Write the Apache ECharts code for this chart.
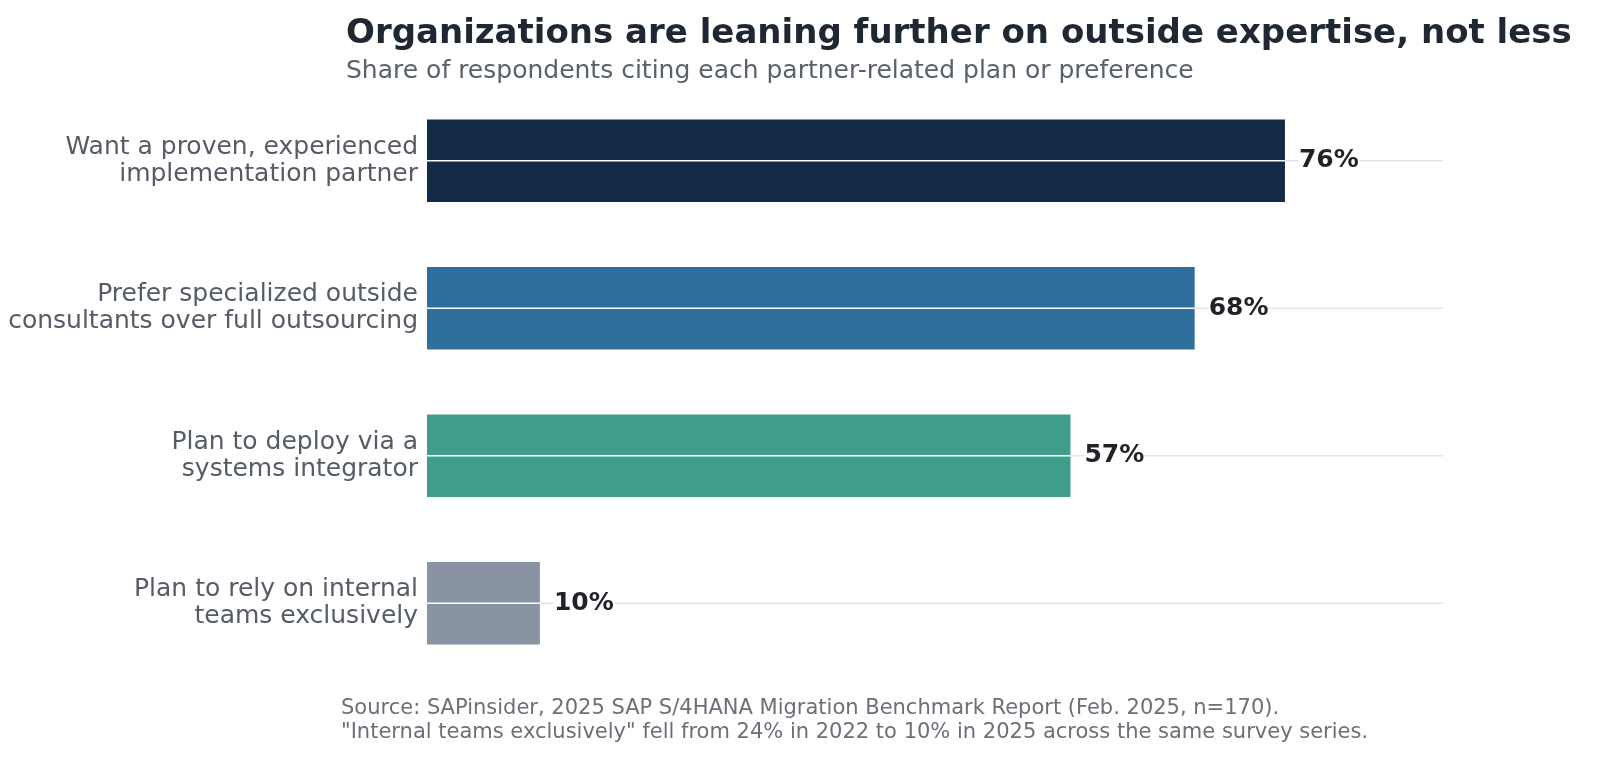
<!DOCTYPE html>
<html>
<head>
<meta charset="utf-8">
<title>ECharts</title>
<script src="https://cdn.jsdelivr.net/npm/echarts@6/dist/echarts.min.js"></script>
<style>html,body{margin:0;background:#fff}#main{width:1600px;height:774px}</style>
</head>
<body>
<div id="main"></div>
<script>
var categories = ['Want a proven, experienced\nimplementation partner', 'Prefer specialized outside\nconsultants over full outsourcing', 'Plan to deploy via a\nsystems integrator', 'Plan to rely on internal\nteams exclusively'];
var values = [76, 68, 57, 10];
var colors = ['#142b47', '#2e6f9e', '#3f9e8a', '#8a93a3'];
var xMax = 90;

var chart = echarts.init(document.getElementById('main'));

function lineItem(full, stroke) {
	return function (params, api) {
		var v = api.value(1);
		var a = api.coord([0, api.value(0)]);
		var b = api.coord([full ? xMax : v, api.value(0)]);
		return { type: 'line', shape: { x1: a[0], y1: a[1], x2: b[0], y2: b[1] }, style: { stroke: stroke, lineWidth: 1.5 } };
	};
}
var lineData = values.map(function (v, i) { return [i, v]; });

chart.setOption({
	textStyle: { fontFamily: 'DejaVu Sans' },
	title: {
		text: 'Organizations are leaning further on outside expertise, not less',
		subtext: 'Share of respondents citing each partner-related plan or preference',
		left: 341, top: 12, itemGap: 8,
		textStyle: { fontSize: 34, fontWeight: 'bold', color: '#1f2732' },
		subtextStyle: { fontSize: 25, color: '#5a616b' }
	},
	graphic: [{
		type: 'text', left: 341, top: 697,
		style: { text: 'Source: SAPinsider, 2025 SAP S/4HANA Migration Benchmark Report (Feb. 2025, n=170).\n"Internal teams exclusively" fell from 24% in 2022 to 10% in 2025 across the same survey series.', fontSize: 21, lineHeight: 24, fill: '#6b7078', fontFamily: 'DejaVu Sans' }
	}],
	grid: { left: 427, right: 157, top: 87, bottom: 97 },
	xAxis: { type: 'value', min: 0, max: xMax, show: false },
	yAxis: {
		type: 'category', data: categories, inverse: true,
		axisLine: { show: false }, axisTick: { show: false }, splitLine: { show: false },
		axisLabel: { fontSize: 25, color: '#555c66', lineHeight: 27, margin: 9, align: 'right' }
	},
	series: [
		{ type: 'custom', renderItem: lineItem(true, '#e3e5e8'), data: lineData, z: 1, silent: true, encode: { x: 1, y: 0 } },
		{
			type: 'bar', z: 2, barCategoryGap: '44%',
			data: values.map(function (v, i) { return { value: v, itemStyle: { color: colors[i] } }; }),
			label: { show: true, position: 'right', distance: 14, formatter: '{c}%', fontSize: 25, fontWeight: 'bold', color: '#1f2328', backgroundColor: '#fff' }
		},
		{ type: 'custom', renderItem: lineItem(false, '#ffffff'), data: lineData, z: 3, silent: true, encode: { x: 1, y: 0 } }
	]
});
</script>
</body>
</html>
